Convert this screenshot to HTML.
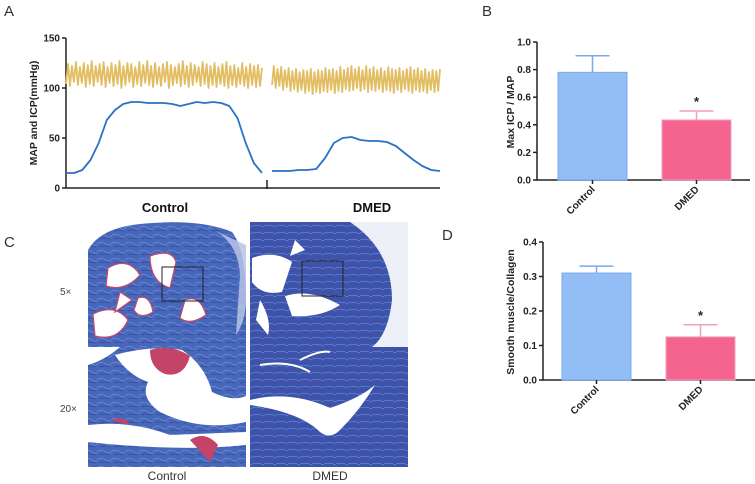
<!DOCTYPE html>
<html><head><meta charset="utf-8"><style>
body{margin:0;background:#fff}
svg{display:block}
text{font-family:"Liberation Sans",Arial,sans-serif}
.ax{stroke:#222;stroke-width:1.5;fill:none}
.tk{font-size:10px;font-weight:bold;fill:#222}
</style></head><body>
<svg id="fig" width="755" height="484" viewBox="0 0 755 484">
<defs>
<pattern id="fib1" width="14" height="8" patternUnits="userSpaceOnUse">
<rect width="14" height="8" fill="#4767bb"/><path d="M0 3 Q4 1 8 4 T14 3" stroke="#7d94d2" stroke-width="0.6" fill="none"/><path d="M2 7 Q6 5 12 7" stroke="#2f4b9e" stroke-width="0.7" fill="none"/>
</pattern>
<pattern id="fib2" width="12" height="7" patternUnits="userSpaceOnUse">
<rect width="12" height="7" fill="#3a55ae"/><path d="M0 2 Q5 0 12 3" stroke="#8497d6" stroke-width="0.5" fill="none"/><path d="M1 6 Q6 4 11 6" stroke="#6d3c86" stroke-width="0.5" fill="none"/>
</pattern>
</defs>

<g>
<text x="4" y="16" font-size="15" fill="#333">A</text>
<text transform="translate(37,113) rotate(-90)" text-anchor="middle" font-size="10.5" font-weight="bold" fill="#222">MAP  and  ICP(mmHg)</text>
<g id="aAxes"></g>
<g id="aMarks"></g>
<text x="165" y="212" text-anchor="middle" font-size="13" font-weight="bold" fill="#111">Control</text>
<text x="372" y="212" text-anchor="middle" font-size="13" font-weight="bold" fill="#111">DMED</text>
</g>

<g>
<text x="482" y="16" font-size="15" fill="#333">B</text>
<text transform="translate(514,112) rotate(-90)" text-anchor="middle" font-size="10.5" font-weight="bold" fill="#222">Max ICP / MAP</text>
<g id="bChart"></g>
</g>

<g>
<text x="442" y="240" font-size="15" fill="#333">D</text>
<text transform="translate(514,312) rotate(-90)" text-anchor="middle" font-size="10.5" font-weight="bold" fill="#222">Smooth muscle/Collagen</text>
<g id="dChart"></g>
</g>

<g>
<text x="4" y="247" font-size="15" fill="#333">C</text>
<text x="60" y="295" font-size="10" fill="#444">5×</text>
<text x="60" y="412" font-size="10" fill="#444">20×</text>
<text x="167" y="480" text-anchor="middle" font-size="12" fill="#333">Control</text>
<text x="330" y="480" text-anchor="middle" font-size="12" fill="#333">DMED</text>

<g>
<path d="M88 347 L88 250 Q100 228 140 224 Q200 218 232 232 Q246 250 246 300 L246 347 Z" fill="url(#fib1)"/>
<path d="M205 226 Q238 238 240 275 L236 335 Q246 320 246 300 L246 245 Z" fill="#b8c4e6" opacity="0.85"/>
<path d="M108 268 Q128 256 140 275 Q125 292 106 286 Z M150 256 Q172 248 176 262 L170 288 Q150 282 150 256 Z M93 314 Q115 303 128 320 Q118 342 95 336 Z M185 300 Q200 294 206 315 Q190 326 180 318 Z M138 298 Q150 294 153 312 Q140 320 134 310 Z M120 292 L132 300 L115 312 Z" fill="#fff" stroke="#c8476a" stroke-width="1.2"/>
<rect x="162" y="267" width="41" height="34" fill="none" stroke="#222" stroke-width="1"/>
</g>
<g>
<rect x="250" y="222" width="158" height="125" fill="#eef0f7"/>
<path d="M250 222 L350 222 Q392 250 392 300 Q388 335 372 347 L250 347 Z" fill="url(#fib2)"/>
<path d="M252 258 Q275 250 292 262 L282 292 Q262 296 252 282 Z M285 296 Q310 288 340 305 Q320 318 292 316 Z M260 300 Q272 320 268 335 L256 320 Z M295 240 L305 250 L290 256 Z" fill="#fff"/>
<rect x="302" y="261" width="41" height="35" fill="none" stroke="#222" stroke-width="1"/>
</g>
<g>
<rect x="88" y="347" width="158" height="120" fill="url(#fib1)"/>
<path d="M115 355 Q150 345 182 350 Q205 365 212 392 Q232 402 246 396 L246 422 Q200 432 160 412 Q140 398 148 382 Q128 375 115 355 Z" fill="#fff"/>
<path d="M88 347 L120 347 Q105 360 88 365 Z" fill="#fff"/>
<path d="M150 350 Q172 344 190 356 Q184 378 165 374 Q150 368 150 350 Z" fill="#c44468"/>
<path d="M88 425 Q130 420 170 435 L246 432 L246 445 Q180 452 88 442 Z" fill="#fff"/>
<path d="M190 440 Q205 430 218 445 L210 462 Z M110 420 Q125 415 130 425 Z" fill="#c44468"/>
</g>
<g>
<rect x="250" y="347" width="158" height="120" fill="url(#fib2)"/>
<path d="M250 400 Q290 390 330 408 Q360 398 375 385 Q360 410 340 430 Q330 440 320 432 Q300 412 250 405 Z" fill="#fff"/>
<path d="M260 365 Q290 360 310 372 M300 360 Q320 350 330 352" stroke="#fff" stroke-width="2" fill="none"/>
</g>
</g>

<script>
const icpControl = [15,15,18,28,45,68,78,84,86,86,85,85,85,84,82,84,86,85,86,85,82,70,45,25,15];
const icpDmed = [17,17,17,18,18,19,30,45,50,51,48,47,47,46,42,35,28,22,18,17];
const mapControl = [104,124,102,122,106,126,103,121,105,125,101,123,104,127,102,122,106,124,103,126,101,121,105,125,102,123,104,127,100,122,103,125,106,124,101,121,104,126,102,123,105,127,103,122,101,125,104,121,102,124,106,126,100,123,103,121,105,124,102,127,104,122,101,125,103,123,106,121,102,126,104,124,100,122,103,125,101,121,104,124,102,126,100,122,103,123,101,120,104,125,102,121,100,124,103,122,101,123,102,120];
const mapDmed = [103,122,100,119,102,121,98,118,101,120,97,117,99,119,96,116,98,118,95,117,97,119,94,116,96,118,95,117,97,120,96,118,98,119,95,117,97,121,96,118,99,120,97,122,98,119,100,121,97,118,99,122,96,119,98,121,97,118,99,120,96,117,98,121,97,119,95,118,98,120,96,117,99,119,97,121,95,118,98,120,96,117,97,119,95,116,98,118,96,117,97,119];
const aTicks = [0,50,100,150];

const bCats = ["Control","DMED"];
const bVals = [0.78,0.435];
const bErr = [0.90,0.50];
const bSig = ["","*"];
const bTicks = ["0.0","0.2","0.4","0.6","0.8","1.0"];

const dCats = ["Control","DMED"];
const dVals = [0.31,0.125];
const dErr = [0.33,0.16];
const dSig = ["","*"];
const dTicks = ["0.0","0.1","0.2","0.3","0.4"];

const NS = "http://www.w3.org/2000/svg";
function mk(tag, attrs, parent){const e=document.createElementNS(NS,tag);for(const k in attrs)e.setAttribute(k,attrs[k]);parent.appendChild(e);return e;}

(function(){
  const axes=document.getElementById('aAxes'), marks=document.getElementById('aMarks');
  const y=v=>188-v*1.0;
  const x0=66;
  let ax=mk('path',{d:`M${x0} 38 L${x0} 188 L440 188 M267 180 L267 189`,class:'ax'},axes);
  
  
  aTicks.forEach(t=>{
    let l=mk('line',{x1:x0-4,x2:x0,y1:y(t),y2:y(t),stroke:'#222','stroke-width':1.5},axes);
    
    
    let tx=mk('text',{x:x0-6,y:y(t)+3.5,'text-anchor':'end',class:'tk','font-size':'9'},axes);tx.textContent=t;
    
    
  });
  function line(arr,xs,xe,color,w,name){
    const pts=arr.map((v,i)=>`${(xs+(xe-xs)*i/(arr.length-1)).toFixed(1)},${y(v).toFixed(1)}`).join(' ');
    const p=mk('polyline',{points:pts,fill:'none',stroke:color,'stroke-width':w,'stroke-linejoin':'round'},marks);
    
    
  }
  line(mapControl,66,262,'#e3bd62',1.8,'map-trace-control');
  line(mapDmed,272,440,'#e3bd62',1.8,'map-trace-dmed');
  line(icpControl,66,262,'#2a72c4',1.8,'icp-trace-control');
  line(icpDmed,272,440,'#2a72c4',1.8,'icp-trace-dmed');
})();

function barChart(g,cats,vals,errs,sig,ticks,x0,yTop,yBot,xEnd,maxV,barX,barW,tag){
  const y=v=>yBot-(yBot-yTop)*v/maxV;
  const colors=['#93bdf5','#f5648f'];
  const strokes=['#7aa9ec','#f0a0bc'];
  let ax=mk('path',{d:`M${x0} ${yTop} L${x0} ${yBot} L${xEnd} ${yBot}`,class:'ax'},g);
  
  
  ticks.forEach(t=>{
    const v=parseFloat(t);
    let l=mk('line',{x1:x0-4,x2:x0,y1:y(v),y2:y(v),stroke:'#222','stroke-width':1.5},g);
    
    
    let tx=mk('text',{x:x0-6,y:y(v)+3.5,'text-anchor':'end',class:'tk'},g);tx.textContent=t;
    
    
  });
  cats.forEach((c,i)=>{
    const bx=barX[i], cx=bx+barW/2;
    let r=mk('rect',{x:bx,y:y(vals[i]),width:barW,height:yBot-y(vals[i]),fill:colors[i],stroke:strokes[i],'stroke-width':1},g);
    
    
    let e=mk('path',{d:`M${cx} ${y(vals[i])} L${cx} ${y(errs[i])} M${cx-17} ${y(errs[i])} L${cx+17} ${y(errs[i])}`,stroke:strokes[i],'stroke-width':1.5,fill:'none'},g);
    
    
    if(sig[i]){let s=mk('text',{x:cx,y:y(errs[i])-5,'text-anchor':'middle','font-size':'13','font-weight':'bold',fill:'#222'},g);s.textContent=sig[i];
      
      }
    let t=mk('line',{x1:cx,x2:cx,y1:yBot,y2:yBot+4,stroke:'#222','stroke-width':1.5},g);
    
    
    let l=mk('text',{transform:`translate(${cx+3},${yBot+10}) rotate(-45)`,'text-anchor':'end',class:'tk'},g);l.textContent=c;
    
    
  });
}
barChart(document.getElementById('bChart'),bCats,bVals,bErr,bSig,bTicks,537,42,180,750,1.0,[558,662],69,'b');
barChart(document.getElementById('dChart'),dCats,dVals,dErr,dSig,dTicks,543,242,380,755,0.4,[562,666],69,'d');
</script>
</svg>
</body></html>
